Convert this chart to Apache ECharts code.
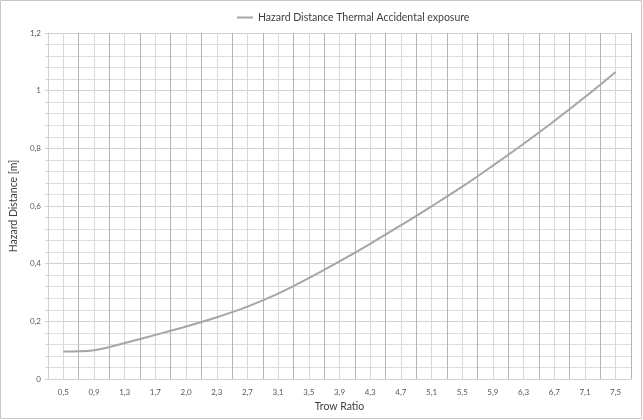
<!DOCTYPE html>
<html>
<head>
<meta charset="utf-8">
<script src="https://cdn.jsdelivr.net/npm/echarts@6/dist/echarts.min.js"></script>
<style>
  html, body { margin: 0; padding: 0; background: #ffffff; }
  #chart { width: 643px; height: 420px; }
</style>
</head>
<body>
<div id="chart"></div>
<script>
var categories = ['0,5','0,9','1,3','1,7','2,0','2,3','2,7','3,1','3,5','3,9','4,3','4,7','5,1','5,5','5,9','6,3','6,7','7,1','7,5'];
var hazardDistance = [0.095, 0.100, 0.125, 0.153, 0.182, 0.214, 0.251, 0.296, 0.350, 0.408, 0.469, 0.533, 0.599, 0.667, 0.740, 0.816, 0.895, 0.978, 1.065];
var seriesName = 'Hazard Distance Thermal Accidental exposure';

var chart = echarts.init(document.getElementById('chart'), null, { renderer: 'canvas' });
var FONT = 'Lato';
chart.setOption({
  animation: false,
  backgroundColor: '#ffffff',
  textStyle: { fontFamily: FONT },
  graphic: [{
    type: 'rect',
    shape: { x: 0.5, y: 0.5, width: 641, height: 418 },
    style: { fill: 'none', stroke: '#c8c8c8', lineWidth: 1 },
    silent: true
  }],
  legend: {
    top: 7,
    left: 232,
    icon: 'rect',
    itemWidth: 16,
    itemHeight: 2,
    itemGap: 6,
    textStyle: { fontFamily: FONT, fontSize: 10.5, color: '#404040' },
    data: [{ name: seriesName, itemStyle: { color: '#a6a6a6' } }]
  },
  grid: { left: 44, right: 12, top: 33, bottom: 41, containLabel: false },
  xAxis: [{
    type: 'category',
    data: categories,
    boundaryGap: true,
    name: 'Trow Ratio',
    nameLocation: 'middle',
    nameGap: 19,
    nameTextStyle: { fontFamily: FONT, fontSize: 10.5, color: '#404040' },
    axisLine: { show: true, lineStyle: { color: '#d0d0d0', width: 1 } },
    axisTick: { show: false },
    axisLabel: { fontFamily: FONT, fontSize: 8, color: '#595959', margin: 9, interval: 0 },
    splitLine: { show: false }
  }, {
    type: 'value',
    min: 0,
    max: 38,
    interval: 1,
    position: 'bottom',
    axisLine: { show: false },
    axisTick: { show: false },
    axisLabel: { show: false },
    splitLine: { show: true, lineStyle: { color: ['#b4b4b4', '#d9d9d9'], width: 1 } }
  }],
  yAxis: {
    type: 'value',
    min: 0,
    max: 1.2,
    interval: 0.2,
    name: 'Hazard Distance [m]',
    nameLocation: 'middle',
    nameGap: 15,
    nameTextStyle: { fontFamily: FONT, fontSize: 10.5, color: '#404040' },
    axisLine: { show: true, lineStyle: { color: '#d0d0d0', width: 1 } },
    axisTick: { show: true, length: 3, lineStyle: { color: '#d0d0d0' } },
    axisLabel: {
      fontFamily: FONT, fontSize: 8, color: '#595959', margin: 7,
      formatter: function (v) { return String(Math.round(v * 10) / 10).replace('.', ','); }
    },
    splitLine: { show: true, lineStyle: { color: '#d0d0d0', width: 1 } },
    minorTick: { show: true, splitNumber: 5, length: 3, lineStyle: { color: '#d9d9d9' } },
    minorSplitLine: { show: true, lineStyle: { color: '#dedede', width: 1 } }
  },
  series: [{
    name: seriesName,
    type: 'line',
    xAxisIndex: 0,
    data: hazardDistance,
    smooth: 0.4,
    showSymbol: false,
    symbol: 'none',
    lineStyle: { color: '#a6a6a6', width: 2 },
    itemStyle: { color: '#a6a6a6' }
  }]
});
</script>
</body>
</html>
